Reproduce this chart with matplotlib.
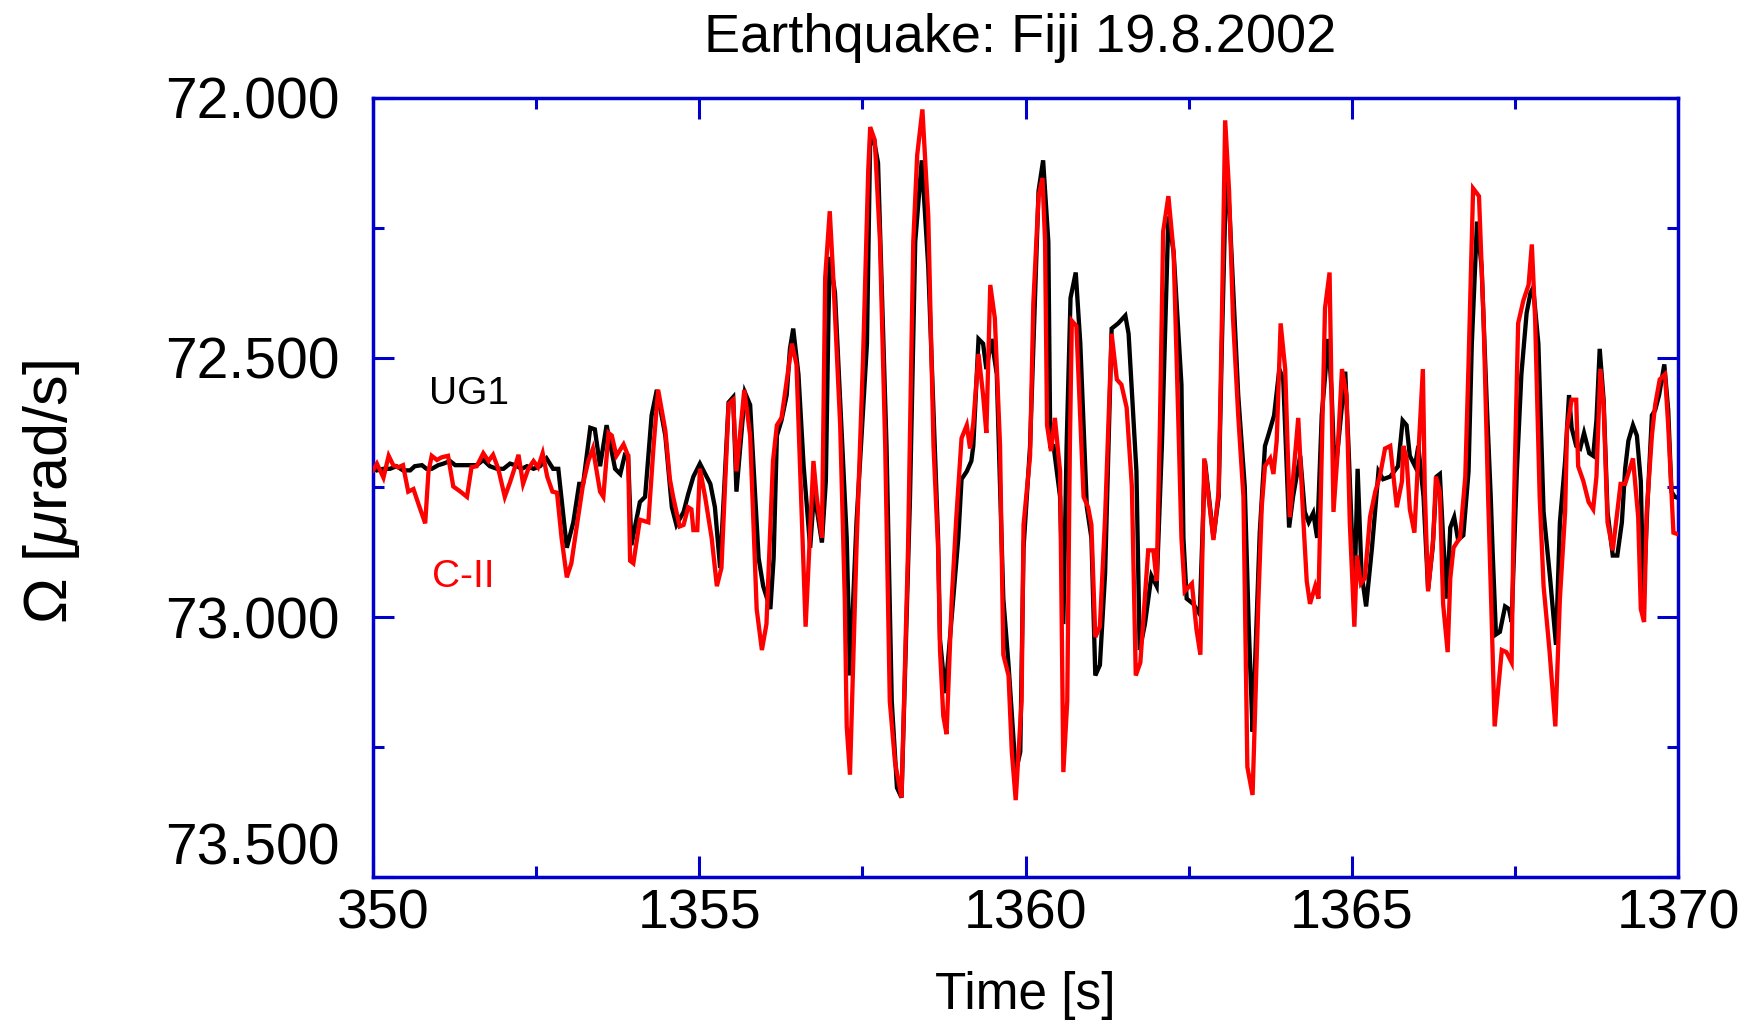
import matplotlib
matplotlib.use("Agg")
import matplotlib.pyplot as plt
from matplotlib.ticker import MultipleLocator
from matplotlib.transforms import ScaledTranslation

plt.rcParams['font.family'] = ['Liberation Sans', 'DejaVu Sans']
plt.rcParams['mathtext.fontset'] = 'custom'
plt.rcParams['mathtext.rm'] = 'Liberation Sans'
plt.rcParams['mathtext.it'] = 'Liberation Sans:italic'

title = "Earthquake: Fiji 19.8.2002"
x_label = "Time [s]"
y_label = r"Ω [$\mu$rad/s]"
x_ticks = [1350, 1355, 1360, 1365, 1370]
x_tick_labels = ["350", "1355", "1360", "1365", "1370"]
y_ticks = [72.0, 72.5, 73.0, 73.5]
y_tick_labels = ["72.000", "72.500", "73.000", "73.500"]

# UG1 (black)
t_ug1 = [1350.00, 1350.06, 1350.16, 1350.26, 1350.36, 1350.46, 1350.57, 1350.64, 1350.75, 1350.82,
         1350.90, 1351.00, 1351.08, 1351.18, 1351.26, 1351.38, 1351.49, 1351.59, 1351.69, 1351.79,
         1351.90, 1352.00, 1352.10, 1352.18, 1352.28, 1352.36, 1352.46, 1352.56, 1352.66, 1352.76,
         1352.84, 1352.97, 1353.07, 1353.16, 1353.22, 1353.33, 1353.40, 1353.48, 1353.58, 1353.71,
         1353.79, 1353.86, 1353.91, 1353.96, 1354.09, 1354.17, 1354.22, 1354.27, 1354.35, 1354.48,
         1354.58, 1354.65, 1354.76, 1354.83, 1354.91, 1355.01, 1355.17, 1355.24, 1355.32, 1355.45,
         1355.52, 1355.57, 1355.70, 1355.78, 1355.91, 1355.98, 1356.09, 1356.14, 1356.19, 1356.26,
         1356.34, 1356.39, 1356.44, 1356.52, 1356.60, 1356.70, 1356.76, 1356.88, 1356.94, 1356.98,
         1357.00, 1357.08, 1357.26, 1357.31, 1357.41, 1357.57, 1357.62, 1357.69, 1357.74, 1357.87,
         1357.95, 1358.03, 1358.10, 1358.23, 1358.31, 1358.41, 1358.51, 1358.66, 1358.69, 1358.77,
         1358.84, 1358.97, 1359.02, 1359.10, 1359.17, 1359.20, 1359.28, 1359.35, 1359.40, 1359.48,
         1359.56, 1359.66, 1359.74, 1359.85, 1359.92, 1359.97, 1360.07, 1360.20, 1360.27, 1360.35,
         1360.38, 1360.43, 1360.53, 1360.58, 1360.63, 1360.69, 1360.77, 1360.84, 1360.94, 1361.01,
         1361.07, 1361.14, 1361.22, 1361.32, 1361.42, 1361.53, 1361.58, 1361.70, 1361.75, 1361.83,
         1361.93, 1362.01, 1362.09, 1362.19, 1362.27, 1362.39, 1362.42, 1362.47, 1362.57, 1362.67,
         1362.75, 1362.88, 1362.96, 1363.01, 1363.08, 1363.13, 1363.26, 1363.36, 1363.42, 1363.48,
         1363.49, 1363.59, 1363.67, 1363.72, 1363.81, 1363.89, 1363.95, 1364.04, 1364.10, 1364.21,
         1364.28, 1364.34, 1364.41, 1364.47, 1364.54, 1364.64, 1364.69, 1364.74, 1364.79, 1364.90,
         1364.95, 1365.04, 1365.09, 1365.15, 1365.22, 1365.31, 1365.41, 1365.48, 1365.59, 1365.71,
         1365.78, 1365.84, 1365.89, 1365.97, 1366.02, 1366.10, 1366.17, 1366.24, 1366.30, 1366.35,
         1366.40, 1366.46, 1366.51, 1366.57, 1366.63, 1366.71, 1366.79, 1366.84, 1366.92, 1366.99,
         1367.07, 1367.13, 1367.16, 1367.21, 1367.27, 1367.35, 1367.41, 1367.45, 1367.53, 1367.60,
         1367.68, 1367.74, 1367.78, 1367.86, 1367.94, 1368.04, 1368.13, 1368.19, 1368.27, 1368.33,
         1368.37, 1368.44, 1368.50, 1368.56, 1368.64, 1368.70, 1368.75, 1368.80, 1368.86, 1368.92,
         1369.00, 1369.07, 1369.14, 1369.19, 1369.24, 1369.31, 1369.37, 1369.43, 1369.47, 1369.53,
         1369.60, 1369.65, 1369.71, 1369.79, 1369.85, 1369.90, 1369.95, 1370.00]
ug1 = [72.709, 72.717, 72.714, 72.714, 72.709, 72.717, 72.717, 72.709, 72.707, 72.714,
       72.714, 72.707, 72.704, 72.699, 72.707, 72.707, 72.707, 72.707, 72.697, 72.709,
       72.714, 72.714, 72.704, 72.707, 72.714, 72.709, 72.714, 72.709, 72.694, 72.714,
       72.714, 72.866, 72.817, 72.743, 72.743, 72.635, 72.638, 72.709, 72.630, 72.714,
       72.724, 72.687, 72.689, 72.861, 72.778, 72.768, 72.689, 72.611, 72.562, 72.650,
       72.788, 72.822, 72.797, 72.763, 72.729, 72.704, 72.743, 72.788, 72.905, 72.586,
       72.576, 72.758, 72.567, 72.591, 72.886, 72.940, 72.984, 72.886, 72.650, 72.621,
       72.572, 72.483, 72.444, 72.532, 72.709, 72.866, 72.758, 72.856, 72.738, 72.424,
       72.306, 72.375, 72.847, 73.112, 72.817, 72.473, 72.076, 72.090, 72.125, 72.670,
       73.161, 73.328, 73.347, 72.768, 72.277, 72.120, 72.326, 72.847, 73.043, 73.146,
       73.043, 72.847, 72.734, 72.719, 72.699, 72.670, 72.464, 72.473, 72.522, 72.464,
       72.532, 72.964, 73.092, 73.298, 73.259, 72.866, 72.670, 72.179, 72.120, 72.277,
       72.670, 72.670, 72.768, 73.013, 72.670, 72.385, 72.336, 72.473, 72.788, 72.847,
       73.112, 73.092, 72.915, 72.444, 72.434, 72.419, 72.454, 72.719, 73.063, 73.013,
       72.920, 72.940, 72.670, 72.228, 72.297, 72.552, 72.847, 72.964, 72.974, 72.994,
       72.699, 72.847, 72.768, 72.473, 72.120, 72.228, 72.572, 72.748, 73.013, 73.220,
       73.190, 72.837, 72.670, 72.650, 72.611, 72.522, 72.542, 72.827, 72.768, 72.689,
       72.797, 72.817, 72.799, 72.847, 72.611, 72.464, 72.562, 72.729, 72.670, 72.527,
       72.670, 72.964, 72.714, 72.915, 72.979, 72.866, 72.719, 72.734, 72.729, 72.709,
       72.621, 72.630, 72.689, 72.709, 72.670, 72.768, 72.945, 72.866, 72.729, 72.724,
       72.847, 72.964, 72.827, 72.807, 72.851, 72.842, 72.719, 72.473, 72.238, 72.326,
       72.591, 72.768, 72.876, 73.033, 73.028, 72.979, 72.984, 73.009, 72.719, 72.532,
       72.414, 72.375, 72.365, 72.473, 72.797, 72.925, 73.053, 72.817, 72.699, 72.572,
       72.635, 72.670, 72.675, 72.645, 72.684, 72.689, 72.621, 72.483, 72.581, 72.797,
       72.881, 72.881, 72.817, 72.714, 72.660, 72.630, 72.650, 72.738, 72.964, 72.788,
       72.611, 72.601, 72.572, 72.513, 72.601, 72.758, 72.768, 72.770]

# C-II (red)
t_c2 = [1350.00, 1350.06, 1350.16, 1350.24, 1350.31, 1350.39, 1350.46, 1350.54, 1350.62, 1350.70,
        1350.80, 1350.85, 1350.90, 1350.98, 1351.05, 1351.15, 1351.23, 1351.33, 1351.44, 1351.51,
        1351.59, 1351.69, 1351.77, 1351.84, 1351.92, 1352.02, 1352.10, 1352.18, 1352.23, 1352.30,
        1352.38, 1352.46, 1352.53, 1352.60, 1352.67, 1352.75, 1352.82, 1352.89, 1352.97, 1353.04,
        1353.12, 1353.22, 1353.30, 1353.37, 1353.48, 1353.53, 1353.61, 1353.66, 1353.73, 1353.84,
        1353.91, 1353.94, 1353.99, 1354.09, 1354.22, 1354.30, 1354.37, 1354.48, 1354.55, 1354.60,
        1354.70, 1354.76, 1354.83, 1354.88, 1354.91, 1354.97, 1355.01, 1355.09, 1355.19, 1355.27,
        1355.34, 1355.45, 1355.52, 1355.57, 1355.69, 1355.78, 1355.88, 1355.96, 1356.03, 1356.13,
        1356.19, 1356.26, 1356.31, 1356.42, 1356.49, 1356.63, 1356.75, 1356.80, 1356.88, 1356.93,
        1357.00, 1357.05, 1357.16, 1357.23, 1357.26, 1357.31, 1357.41, 1357.51, 1357.59, 1357.62,
        1357.69, 1357.77, 1357.85, 1357.92, 1358.00, 1358.10, 1358.20, 1358.28, 1358.34, 1358.42,
        1358.51, 1358.59, 1358.66, 1358.69, 1358.74, 1358.79, 1358.87, 1358.94, 1359.02, 1359.10,
        1359.15, 1359.20, 1359.28, 1359.35, 1359.40, 1359.46, 1359.53, 1359.61, 1359.66, 1359.74,
        1359.79, 1359.85, 1359.94, 1359.97, 1360.07, 1360.12, 1360.20, 1360.26, 1360.30, 1360.33,
        1360.39, 1360.45, 1360.53, 1360.58, 1360.64, 1360.68, 1360.71, 1360.78, 1360.89, 1360.96,
        1361.01, 1361.07, 1361.14, 1361.22, 1361.32, 1361.40, 1361.47, 1361.55, 1361.63, 1361.69,
        1361.76, 1361.88, 1361.96, 1362.01, 1362.06, 1362.11, 1362.19, 1362.27, 1362.34, 1362.39,
        1362.44, 1362.55, 1362.62, 1362.68, 1362.74, 1362.88, 1362.96, 1363.01, 1363.06, 1363.12,
        1363.18, 1363.26, 1363.34, 1363.40, 1363.48, 1363.57, 1363.62, 1363.67, 1363.75, 1363.80,
        1363.85, 1363.91, 1363.98, 1364.05, 1364.18, 1364.26, 1364.31, 1364.36, 1364.44, 1364.49,
        1364.54, 1364.59, 1364.66, 1364.72, 1364.78, 1364.85, 1364.92, 1364.97, 1365.04, 1365.08,
        1365.14, 1365.20, 1365.28, 1365.36, 1365.43, 1365.51, 1365.59, 1365.69, 1365.77, 1365.79,
        1365.84, 1365.89, 1365.96, 1366.02, 1366.09, 1366.12, 1366.17, 1366.25, 1366.29, 1366.35,
        1366.40, 1366.47, 1366.51, 1366.56, 1366.61, 1366.66, 1366.74, 1366.79, 1366.86, 1366.95,
        1367.02, 1367.09, 1367.14, 1367.19, 1367.30, 1367.37, 1367.45, 1367.48, 1367.55, 1367.63,
        1367.71, 1367.76, 1367.81, 1367.88, 1367.94, 1368.03, 1368.12, 1368.19, 1368.27, 1368.30,
        1368.37, 1368.44, 1368.47, 1368.55, 1368.63, 1368.70, 1368.75, 1368.81, 1368.86, 1368.92,
        1369.00, 1369.06, 1369.12, 1369.19, 1369.31, 1369.39, 1369.43, 1369.48, 1369.52, 1369.60,
        1369.65, 1369.72, 1369.80, 1369.85, 1369.93, 1370.00]
c2 = [72.717, 72.704, 72.731, 72.689, 72.707, 72.711, 72.707, 72.758, 72.753, 72.783,
      72.819, 72.720, 72.689, 72.697, 72.692, 72.689, 72.748, 72.757, 72.768, 72.711,
      72.709, 72.684, 72.699, 72.687, 72.714, 72.768, 72.740, 72.709, 72.687, 72.743,
      72.714, 72.699, 72.711, 72.684, 72.729, 72.758, 72.760, 72.847, 72.923, 72.896,
      72.827, 72.743, 72.699, 72.675, 72.758, 72.768, 72.645, 72.650, 72.689, 72.667,
      72.689, 72.891, 72.896, 72.812, 72.817, 72.670, 72.562, 72.640, 72.734, 72.768,
      72.825, 72.822, 72.788, 72.792, 72.832, 72.832, 72.714, 72.768, 72.847, 72.940,
      72.905, 72.589, 72.581, 72.719, 72.562, 72.650, 72.984, 73.063, 73.013, 72.699,
      72.630, 72.616, 72.572, 72.473, 72.513, 73.018, 72.699, 72.768, 72.847, 72.346,
      72.218, 72.336, 72.630, 72.964, 73.210, 73.303, 72.866, 72.503, 72.139, 72.056,
      72.081, 72.277, 72.670, 73.161, 73.279, 73.347, 72.866, 72.277, 72.110, 72.022,
      72.228, 72.670, 72.866, 73.063, 73.190, 73.225, 72.964, 72.807, 72.655, 72.630,
      72.675, 72.626, 72.493, 72.572, 72.645, 72.360, 72.424, 72.670, 73.072, 73.112,
      73.259, 73.352, 73.161, 72.822, 72.689, 72.395, 72.189, 72.154, 72.277, 72.630,
      72.680, 72.616, 72.719, 73.298, 73.161, 72.670, 72.429, 72.439, 72.768, 72.788,
      72.822, 73.038, 73.018, 72.807, 72.454, 72.542, 72.552, 72.596, 72.748, 73.112,
      73.087, 72.871, 72.871, 72.930, 72.630, 72.257, 72.189, 72.297, 72.611, 72.847,
      72.950, 72.935, 73.023, 73.072, 72.694, 72.851, 72.758, 72.424, 72.043, 72.179,
      72.424, 72.611, 72.768, 73.288, 73.342, 72.964, 72.788, 72.709, 72.694, 72.724,
      72.660, 72.434, 72.522, 72.807, 72.616, 72.817, 72.930, 72.974, 72.940, 72.964,
      72.680, 72.405, 72.336, 72.797, 72.689, 72.522, 72.572, 72.817, 73.018, 72.881,
      72.935, 72.925, 72.807, 72.758, 72.729, 72.675, 72.670, 72.788, 72.738, 72.670,
      72.694, 72.792, 72.837, 72.689, 72.522, 72.758, 72.950, 72.847, 72.729, 72.758,
      72.974, 73.067, 72.925, 72.866, 72.856, 72.847, 72.729, 72.513, 72.174, 72.189,
      72.424, 72.768, 72.984, 73.210, 73.063, 73.067, 73.087, 72.817, 72.434, 72.390,
      72.360, 72.282, 72.424, 72.768, 72.940, 73.063, 73.210, 72.964, 72.797, 72.635,
      72.581, 72.581, 72.709, 72.738, 72.778, 72.792, 72.729, 72.522, 72.591, 72.817,
      72.871, 72.807, 72.743, 72.743, 72.694, 72.807, 72.984, 73.009, 72.797, 72.650,
      72.591, 72.542, 72.532, 72.630, 72.837, 72.840]

BLUE = '#0000cc'

fig = plt.figure(figsize=(17.48, 10.25), dpi=100)
ax = fig.add_axes([373 / 1748, 1 - 877 / 1025, 1305 / 1748, 779 / 1025])

ax.plot(t_ug1, ug1, color='black', lw=3.1, solid_joinstyle='miter', zorder=2)
ax.plot(t_c2, c2, color='#ff0000', lw=3.1, solid_joinstyle='miter', zorder=3)

ax.set_xlim(1350, 1370)
ax.set_ylim(73.5, 72.0)
ax.set_xticks(x_ticks)
ax.set_xticklabels(x_tick_labels)
ax.set_yticks(y_ticks)
ax.set_yticklabels(y_tick_labels)
ax.xaxis.set_minor_locator(MultipleLocator(2.5))
ax.yaxis.set_minor_locator(MultipleLocator(0.25))

for s in ax.spines.values():
    s.set_color(BLUE)
    s.set_linewidth(2.5)

ax.tick_params(which='both', direction='in', top=True, right=True, color=BLUE, width=2.2)
ax.tick_params(which='major', length=15)
ax.tick_params(which='minor', length=8)
ax.tick_params(axis='x', which='major', labelsize=40, pad=8)
ax.tick_params(axis='y', which='major', labelsize=41, pad=24)

# first x label sits slightly right of its tick; last y label sits above its tick
xl0 = ax.get_xticklabels()[0]
xl0.set_transform(xl0.get_transform() + ScaledTranslation(10 / 100, 0, fig.dpi_scale_trans))
ax.get_yticklabels()[-1].set_verticalalignment('bottom')

ax.text(1350.855, 72.590, "UG1", fontsize=28, color='black', ha='left', va='baseline')
ax.text(1350.906, 72.942, "C-II", fontsize=28, color='#ff0000', ha='left', va='baseline')

fig.text(0.5835, 1 - 52 / 1025, title, fontsize=39, ha='center', va='baseline')
fig.text(0.5867, 1 - 1009 / 1025, x_label, fontsize=37, ha='center', va='baseline')
fig.text(52 / 1748, 0.52, y_label, fontsize=44, rotation=90, ha='center', va='center')

fig.savefig('out.png', dpi=100)
